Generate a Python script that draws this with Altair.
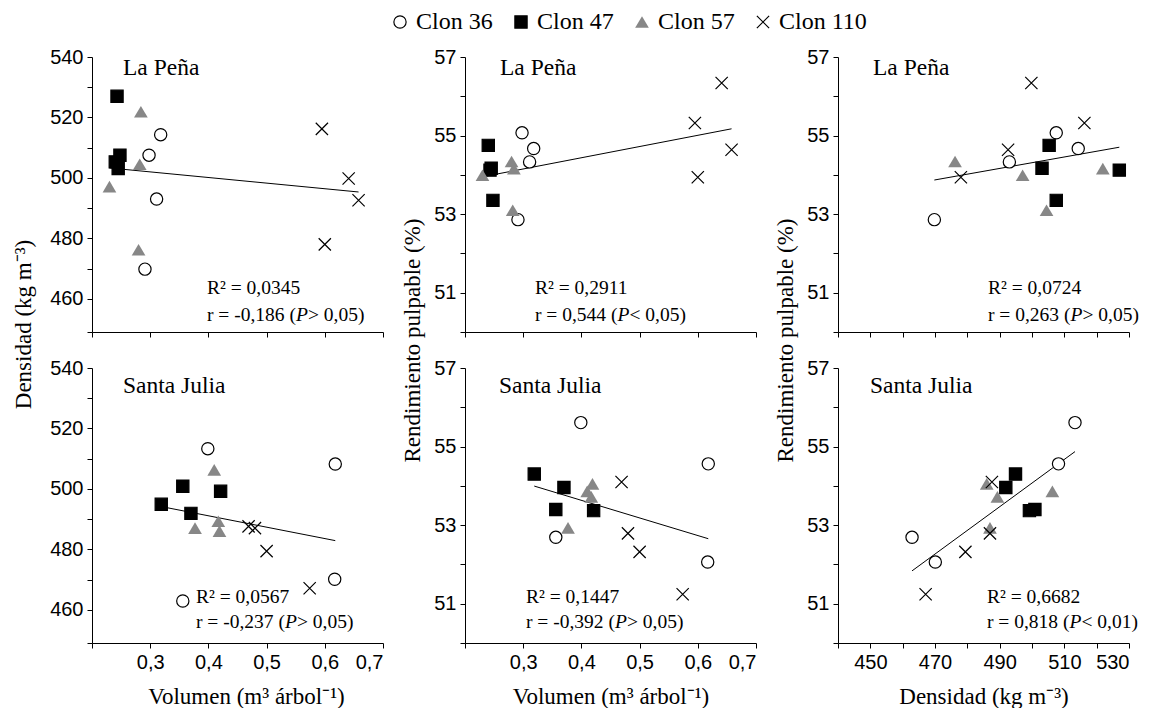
import altair as alt
import pandas as pd

clones = ["Clon 36", "Clon 47", "Clon 57", "Clon 110"]
clone_of_tree = ["Clon 36"] * 4 + ["Clon 47"] * 4 + ["Clon 57"] * 4 + ["Clon 110"] * 4

# La Peña
lp_vol = [0.298, 0.318, 0.311, 0.291, 0.243, 0.248, 0.240, 0.245,
          0.280, 0.230, 0.284, 0.282, 0.595, 0.641, 0.658, 0.600]
lp_dens = [507.5, 514.3, 493.0, 469.8, 527.0, 507.5, 505.3, 503.1,
           476.2, 497.1, 521.9, 504.5, 516.2, 499.8, 492.6, 478.0]
lp_rend = [55.07, 54.67, 54.33, 52.86, 54.12, 53.35, 54.75, 54.17,
           54.34, 53.99, 54.16, 53.10, 55.32, 56.34, 54.64, 53.94]

# Santa Julia
sj_vol = [0.399, 0.618, 0.356, 0.617, 0.319, 0.370, 0.356, 0.421,
          0.410, 0.377, 0.417, 0.419, 0.469, 0.480, 0.500, 0.574]
sj_dens = [513.3, 508.2, 462.9, 470.1, 494.9, 491.9, 500.9, 499.2,
           506.3, 487.0, 489.3, 486.0, 487.6, 487.0, 479.4, 467.1]
sj_rend = [55.61, 54.56, 52.69, 52.06, 54.30, 53.96, 53.40, 53.37,
           53.86, 52.93, 53.72, 54.05, 54.10, 52.79, 52.32, 51.24]

sites = ["La Peña", "Santa Julia"]
r2_vals = [["0,0345", "0,2911", "0,0724"], ["0,0567", "0,1447", "0,6682"]]
r_vals = [["-0,186", "0,544", "0,263"], ["-0,237", "-0,392", "0,818"]]
p_sign = [[">", "<", ">"], [">", ">", "<"]]
p_vals = [["0,05", "0,05", "0,05"], ["0,05", "0,05", "0,01"]]

x_titles = ["Volumen (m³ árbol⁻¹)", "Volumen (m³ árbol⁻¹)", "Densidad (kg m⁻³)"]
y_titles = ["Densidad (kg m⁻³)", "Rendimiento pulpable (%)", "Rendimiento pulpable (%)"]

W, H = 291, 275
SERIF = "Liberation Serif"
SANS = "Liberation Sans"

# Times metrics (per 1000 em) for positioning the italic P
_tw = {' ': 250, '=': 564, '-': 333, ',': 250, '(': 333, ')': 333, 'r': 333,
       '>': 564, '<': 564, 'R': 667, '²': 300, '.': 250, 'P': 611}


def text_width(s, size):
    return sum(_tw.get(c, 500) for c in s) * size / 1000.0


site_frames = [
    pd.DataFrame({"clon": clone_of_tree, "vol": lp_vol, "dens": lp_dens, "rend": lp_rend}),
    pd.DataFrame({"clon": clone_of_tree, "vol": sj_vol, "dens": sj_dens, "rend": sj_rend}),
]

legend = alt.Legend(
    title=None, orient="none", legendX=296, legendY=-47, direction="horizontal",
    columns=4, labelFont=SERIF, labelFontSize=24, labelColor="black",
    symbolSize=150, symbolStrokeWidth=1.2, labelOffset=4, columnPadding=16,
    padding=0, labelLimit=0,
)

shape_enc = alt.Shape("clon:N", scale=alt.Scale(domain=clones, range=[
    "circle", "square", "M0,-0.95L1.12,0.95L-1.12,0.95Z", "M-1,-1L1,1M-1,1L1,-1"]), legend=legend)
fill_enc = alt.Fill("clon:N", scale=alt.Scale(domain=clones, range=[
    "white", "black", "#878787", "transparent"]), legend=legend)
stroke_enc = alt.Stroke("clon:N", scale=alt.Scale(domain=clones, range=[
    "black", "black", "transparent", "black"]), legend=legend)

label_pos = [[(31, 11), (35, 11), (35, 11)], [(31, 18), (34, 18), (32, 18)]]
stat_pos = [[(115, 231, 258), (70, 231, 258), (150, 231, 258)],
            [(104, 229, 254), (61, 229, 254), (149, 229, 254)]]
R_SIZE = 19.5


def text_layer(txt, x, y, size, style="normal", font=SERIF):
    return alt.Chart(pd.DataFrame({"t": [txt]})).mark_text(
        align="left", baseline="middle", font=font, fontSize=size,
        fontStyle=style, fontWeight="normal", color="black",
    ).encode(text="t:N", x=alt.value(x), y=alt.value(y))


def panel(row, col):
    df = site_frames[row]
    xf, yf = [("vol", "dens"), ("vol", "rend"), ("dens", "rend")][col]
    bottom = row == 1

    if col < 2:
        xs = alt.Scale(domain=[0.2, 0.7], nice=False, zero=False)
        xvals = [0.2, 0.3, 0.4, 0.5, 0.6, 0.7]
        xlab = "datum.value < 0.25 ? '' : replace(format(datum.value, '.1f'), '.', ',')"
    else:
        xs = alt.Scale(domain=[440, 530], nice=False, zero=False)
        xvals = list(range(440, 531, 10))
        xlab = "datum.value % 20 == 10 ? format(datum.value, 'd') : ''"
    if col == 0:
        ys = alt.Scale(domain=[449, 540], nice=False, zero=False)
        yvals = [449] + list(range(460, 541, 10))
        ylab = "datum.value % 20 == 0 ? format(datum.value, 'd') : ''"
        ytx = -69
        yty = 267
    else:
        ys = alt.Scale(domain=[50, 57], nice=False, zero=False)
        yvals = list(range(50, 58))
        ylab = "datum.value % 2 == 1 ? format(datum.value, 'd') : ''"
        ytx = -53
        yty = 283

    xaxis_kw = dict(values=xvals, labelExpr=xlab, labels=bottom)
    if bottom:
        xaxis_kw.update(title=x_titles[col], titleX=154 if col == 0 else W / 2,
                        titleY=60, titleBaseline="alphabetic")
    else:
        xaxis_kw.update(title=None)
    yaxis_kw = dict(values=yvals, labelExpr=ylab)
    if not bottom:
        yaxis_kw.update(title=y_titles[col], titleX=ytx, titleY=yty,
                        titleBaseline="middle", titleAlign="center", titleAngle=270)
    else:
        yaxis_kw.update(title=None)

    X = alt.X(f"{xf}:Q", scale=xs, axis=alt.Axis(**xaxis_kw))
    Y = alt.Y(f"{yf}:Q", scale=ys, axis=alt.Axis(**yaxis_kw))

    line = alt.Chart(df).transform_regression(xf, yf).mark_line(
        color="black", strokeWidth=1).encode(x=X, y=Y)
    pts = alt.Chart(df).mark_point(size=150, strokeWidth=1.2, opacity=1).encode(
        x=X, y=Y, shape=shape_enc, fill=fill_enc, stroke=stroke_enc)

    lx, ly = label_pos[row][col]
    sx, sy1, sy2 = stat_pos[row][col]
    site_txt = text_layer(sites[row], lx, ly, 23.5)
    r2_txt = text_layer(f"R² = {r2_vals[row][col]}", sx, sy1, R_SIZE)
    part1 = f"r = {r_vals[row][col]} ("
    part3 = f"{p_sign[row][col]} {p_vals[row][col]})"
    w1 = text_width(part1, R_SIZE)
    wp = text_width("P", R_SIZE)
    t1 = text_layer(part1, sx, sy2, R_SIZE)
    t2 = text_layer("P", sx + w1, sy2, R_SIZE, style="italic")
    t3 = text_layer(part3, sx + w1 + wp, sy2, R_SIZE)

    return alt.layer(line, pts, site_txt, r2_txt, t1, t2, t3).properties(width=W, height=H)


panels = [panel(r, c) for r in range(2) for c in range(3)]

chart = alt.concat(
    *panels, columns=3, spacing={"row": 36, "column": 82}, bounds="flush"
).properties(
    padding={"left": 4, "top": 2, "right": 5, "bottom": 0}
).configure_view(stroke=None).configure_axis(
    grid=False, domainColor="black", tickColor="black", labelColor="black",
    labelFont=SANS, labelFontSize=20, tickSize=5, labelPadding=4,
    titleFont=SERIF, titleFontSize=23, titleFontWeight="normal", titleColor="black",
    domainWidth=1, tickWidth=1,
)

chart.save("out.html", embed_options={"renderer": "svg", "actions": False})
